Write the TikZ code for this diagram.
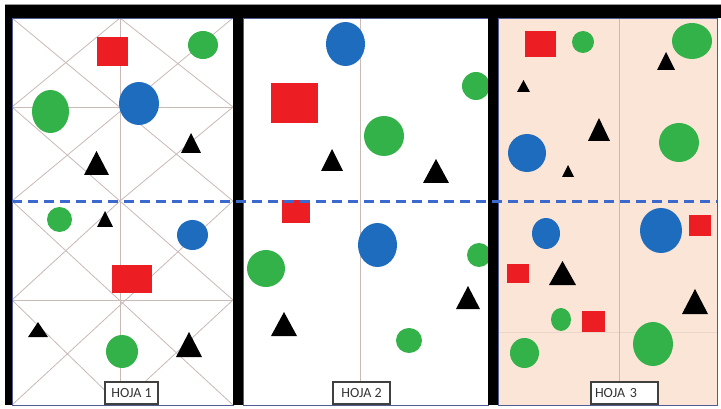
\documentclass[tikz,border=0pt]{standalone}
\usepackage{fontspec}
\setmainfont{Carlito}
\usetikzlibrary{positioning}

\definecolor{shapered}{RGB}{236,30,36}
\definecolor{shapegreen}{RGB}{50,178,72}
\definecolor{shapeblue}{RGB}{30,108,190}
\definecolor{peach}{RGB}{251,229,214}
\definecolor{gridline}{RGB}{200,186,182}
\definecolor{edgeblue}{RGB}{80,92,150}
\definecolor{cutblue}{RGB}{60,105,205}

\tikzset{
  gridln/.style={draw=gridline, line width=0.8pt},
  hojabox/.style={draw=black!75, fill=white, line width=1.2pt, text=black!80,
    font=\fontsize{14}{15}\selectfont, minimum height=22pt, inner sep=4pt},
}

\begin{document}
\begin{tikzpicture}[x=1pt,y=-1pt]
\useasboundingbox (0,0) rectangle (721,409);
% sheet backgrounds
\fill[white] (12,18) rectangle (233,405);
\fill[white] (243,18) rectangle (488,405);
\fill[peach] (498,18) rectangle (717,405);

% guide lines, sheet 1
\draw[gridln] (120,18) -- (120,405);
\draw[gridln] (12,107) -- (233,107);
\draw[gridln] (12,300) -- (233,300);
\draw[gridln] (12,18) -- (233,201);
\draw[gridln] (233,18) -- (12,201);
\draw[gridln] (120,18) -- (12,107) -- (120,201) -- (233,107) -- cycle;
\draw[gridln] (12,201) -- (233,405);
\draw[gridln] (233,201) -- (12,405);
\draw[gridln] (120,201) -- (12,300) -- (120,405) -- (233,300) -- cycle;
% guide lines, sheets 2 and 3
\draw[gridln] (360,18) -- (360,405);
\draw[gridln] (619,18) -- (619,405);
\draw[gridln, draw opacity=0.35] (498,332) -- (717,332);

% sheet 1
\fill[shapered] (97,37) rectangle (128,66);
\fill[shapered] (112,265) rectangle (152,293);
\fill[shapegreen] (203,45) ellipse [x radius=15pt, y radius=14pt];
\fill[shapegreen] (50.5,111.5) ellipse [x radius=18.5pt, y radius=21.5pt];
\fill[shapeblue] (139,103.5) ellipse [x radius=20pt, y radius=21.5pt];
\fill[shapegreen] (59.5,219.5) ellipse [x radius=12.5pt, y radius=12.5pt];
\fill[shapeblue] (192.5,235) ellipse [x radius=15.5pt, y radius=15pt];
\fill[shapegreen] (122,351.5) ellipse [x radius=16pt, y radius=16.5pt];
\fill[black] (181,153) -- (191,133) -- (201,153) -- cycle;
\fill[black] (84,175) -- (96.5,151) -- (109,175) -- cycle;
\fill[black] (97,227) -- (105,211) -- (113,227) -- cycle;
\fill[black] (28,337) -- (38,322) -- (48,337) -- cycle;
\fill[black] (176,357) -- (189,332) -- (202,357) -- cycle;

% sheet 2
\fill[shapered] (271,83) rectangle (318,123);
\fill[shapered] (282,200) rectangle (310,223);
\fill[shapeblue] (345.5,44) ellipse [x radius=19.5pt, y radius=22pt];
\fill[shapegreen] (476,86) ellipse [x radius=14pt, y radius=14pt];
\fill[shapegreen] (384,136) ellipse [x radius=20pt, y radius=20pt];
\fill[shapeblue] (377.5,245) ellipse [x radius=19.5pt, y radius=22pt];
\fill[shapegreen] (266,268.5) ellipse [x radius=19pt, y radius=18.5pt];
\fill[shapegreen] (479,255) ellipse [x radius=12pt, y radius=12pt];
\fill[shapegreen] (409,340.5) ellipse [x radius=13pt, y radius=12.5pt];
\fill[black] (321,171) -- (332,149) -- (343,171) -- cycle;
\fill[black] (423,183) -- (436,159) -- (449,183) -- cycle;
\fill[black] (271,336) -- (284,312) -- (297,336) -- cycle;
\fill[black] (456,309) -- (468,286) -- (480,309) -- cycle;

% sheet 3
\fill[shapered] (525,31) rectangle (556,57);
\fill[shapered] (689,215) rectangle (711,236);
\fill[shapered] (507,264) rectangle (529,283);
\fill[shapered] (582,311) rectangle (605,332);
\fill[shapegreen] (583,42) ellipse [x radius=11pt, y radius=11pt];
\fill[shapegreen] (692,41) ellipse [x radius=20pt, y radius=18pt];
\fill[shapeblue] (527,153) ellipse [x radius=19pt, y radius=19pt];
\fill[shapegreen] (679,142.5) ellipse [x radius=20pt, y radius=19.5pt];
\fill[shapeblue] (546,233.5) ellipse [x radius=14pt, y radius=15.5pt];
\fill[shapeblue] (661,230.5) ellipse [x radius=21pt, y radius=22.5pt];
\fill[shapegreen] (561,319.5) ellipse [x radius=10pt, y radius=11.5pt];
\fill[shapegreen] (524.5,353) ellipse [x radius=14.5pt, y radius=15pt];
\fill[shapegreen] (653,344) ellipse [x radius=20pt, y radius=22pt];
\fill[black] (657,70) -- (666,52) -- (675,70) -- cycle;
\fill[black] (517,92) -- (523.5,80) -- (530,92) -- cycle;
\fill[black] (588,141) -- (599,118) -- (610,141) -- cycle;
\fill[black] (562,177) -- (568,165) -- (574,177) -- cycle;
\fill[black] (549,285) -- (562.5,261) -- (576,285) -- cycle;
\fill[black] (682,314) -- (695,289) -- (708,314) -- cycle;

% thin sheet edges
\draw[edgeblue, line width=0.8pt] (12,18) rectangle (233,405);
\draw[edgeblue, line width=0.8pt] (243,18) rectangle (488,405);
\draw[edgeblue, line width=0.8pt] (498,18) rectangle (717,405);

% black frame
\draw[black!40, line width=0.6pt] (5,4) -- (721,4);
\fill[black] (5,5) rectangle (721,18);
\fill[black] (5,5) rectangle (12,405);
\fill[black] (233,18) rectangle (243,405);
\fill[black] (488,18) rectangle (498,405);

% cut line
\draw[cutblue, line width=2.2pt, dash pattern=on 10pt off 6pt] (12,201.5) -- (717,201.5);

% labels
\node[hojabox, minimum width=53pt] (hoja1) at (131.5,393) {HOJA 1};
\node[hojabox, minimum width=57pt] (hoja2) at (361.5,393) {HOJA 2};
\node[hojabox, text width=59pt, align=left] (hoja3) at (624.5,393) {HOJA 3};
\end{tikzpicture}
\end{document}
